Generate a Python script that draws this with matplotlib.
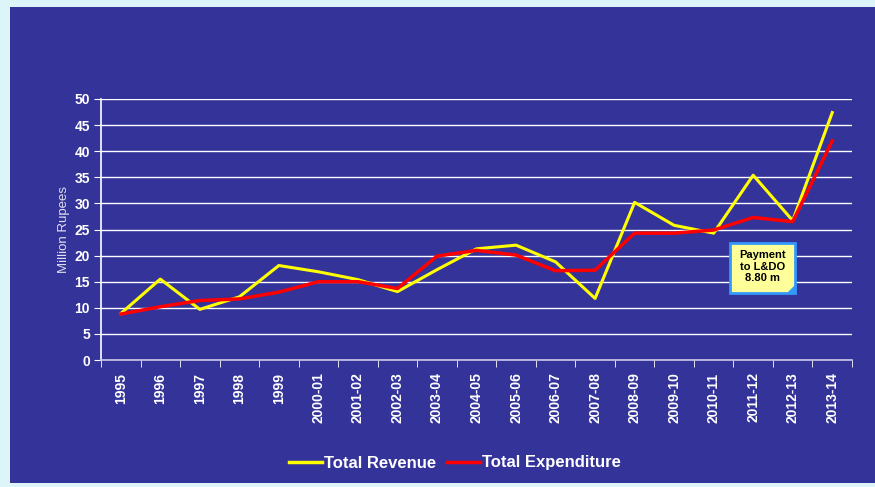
import matplotlib
matplotlib.use('Agg')
import matplotlib.pyplot as plt
from matplotlib.patches import Rectangle, Polygon

# financial years along the x axis
years = ['1995', '1996', '1997', '1998', '1999', '2000-01', '2001-02', '2002-03',
         '2003-04', '2004-05', '2005-06', '2006-07', '2007-08', '2008-09',
         '2009-10', '2010-11', '2011-12', '2012-13', '2013-14']
revenue = [8.9, 15.5, 9.7, 12.1, 18.1, 16.9, 15.4, 13.1, 17.3, 21.3, 22.0, 18.8,
           11.8, 30.2, 25.8, 24.3, 35.4, 26.7, 47.4]
expenditure = [8.8, 10.2, 11.4, 11.7, 13.0, 15.0, 15.0, 13.7, 19.9, 21.0, 20.1,
               17.1, 17.2, 24.3, 24.3, 24.9, 27.3, 26.5, 42.0]
yticks = list(range(0, 55, 5))
note = 'Payment\nto L&DO\n8.80 m'

BLUE = '#333399'
plt.rcParams['font.family'] = ['Liberation Sans', 'DejaVu Sans']

fig = plt.figure(figsize=(8.75, 4.87), dpi=100)
fig.patch.set_facecolor('#DDF4F8')
# blue slide panel behind the chart
panel = Rectangle((10 / 875, 4 / 487), 1, 476 / 487, transform=fig.transFigure,
                  facecolor=BLUE, edgecolor='none', zorder=-10)
fig.add_artist(panel)

ax = fig.add_axes([101 / 875, 127 / 487, 751 / 875, 261 / 487])
ax.set_facecolor(BLUE)
x = list(range(len(years)))
ax.plot(x, revenue, color='#FFFF00', lw=2.2, label='Total Revenue', zorder=3)
ax.plot(x, expenditure, color='#FF0000', lw=2.5, label='Total Expenditure', zorder=4)

ax.set_xlim(-0.5, len(years) - 0.5)
ax.set_ylim(0, 50)
ax.set_yticks(yticks)
ax.set_yticklabels([str(v) for v in yticks], color='white', fontweight='bold', fontsize=10)
ax.set_xticks(x)
ax.set_xticklabels(years, rotation=90, color='white', fontweight='bold', fontsize=10)
ax.set_xticks([i - 0.5 for i in range(len(years) + 1)], minor=True)
ax.tick_params(axis='x', which='major', length=0, pad=9)
ax.tick_params(axis='x', which='minor', length=5, color='white', direction='out')
ax.tick_params(axis='y', length=5, color='white', direction='out', pad=3)
ax.yaxis.grid(True, color='white', lw=1)
ax.set_axisbelow(True)
for s in ['top', 'right']:
    ax.spines[s].set_visible(False)
ax.spines['left'].set_color('white')
ax.spines['bottom'].set_color('#C8C8E6')
ax.spines['left'].set_linewidth(1.2)
ax.spines['bottom'].set_linewidth(1.2)
ax.set_ylabel('Million Rupees', color='#E0E0F0', fontsize=9.5, labelpad=3)

# callout note (sticky-note box with folded corner)
nx, ny, nw, nh = 15.41, 12.8, 1.64, 9.6
ax.add_patch(Rectangle((nx, ny), nw, nh, facecolor='#FFFF99', edgecolor='#3399FF',
                       lw=2, zorder=5))
ax.add_patch(Polygon([(nx + nw, ny + 1.6), (nx + nw, ny), (nx + nw - 0.2, ny)],
                     closed=True, facecolor='#3399FF', edgecolor='none', zorder=6))
ax.text(nx + nw / 2, ny + nh / 2 + 0.3, note, ha='center', va='center', fontsize=8,
        fontweight='bold', color='black', linespacing=1.15, zorder=7)

leg = fig.legend(loc='center', bbox_to_anchor=(455 / 875, 1 - 463 / 487), ncol=2,
                 frameon=False, fontsize=12, handlelength=2.0, handletextpad=0.15,
                 columnspacing=0.6)
for t in leg.get_texts():
    t.set_color('white')
    t.set_fontweight('bold')
for h in leg.get_lines():
    h.set_linewidth(2.5)

fig.savefig('out.png', dpi=100, facecolor=fig.get_facecolor())
